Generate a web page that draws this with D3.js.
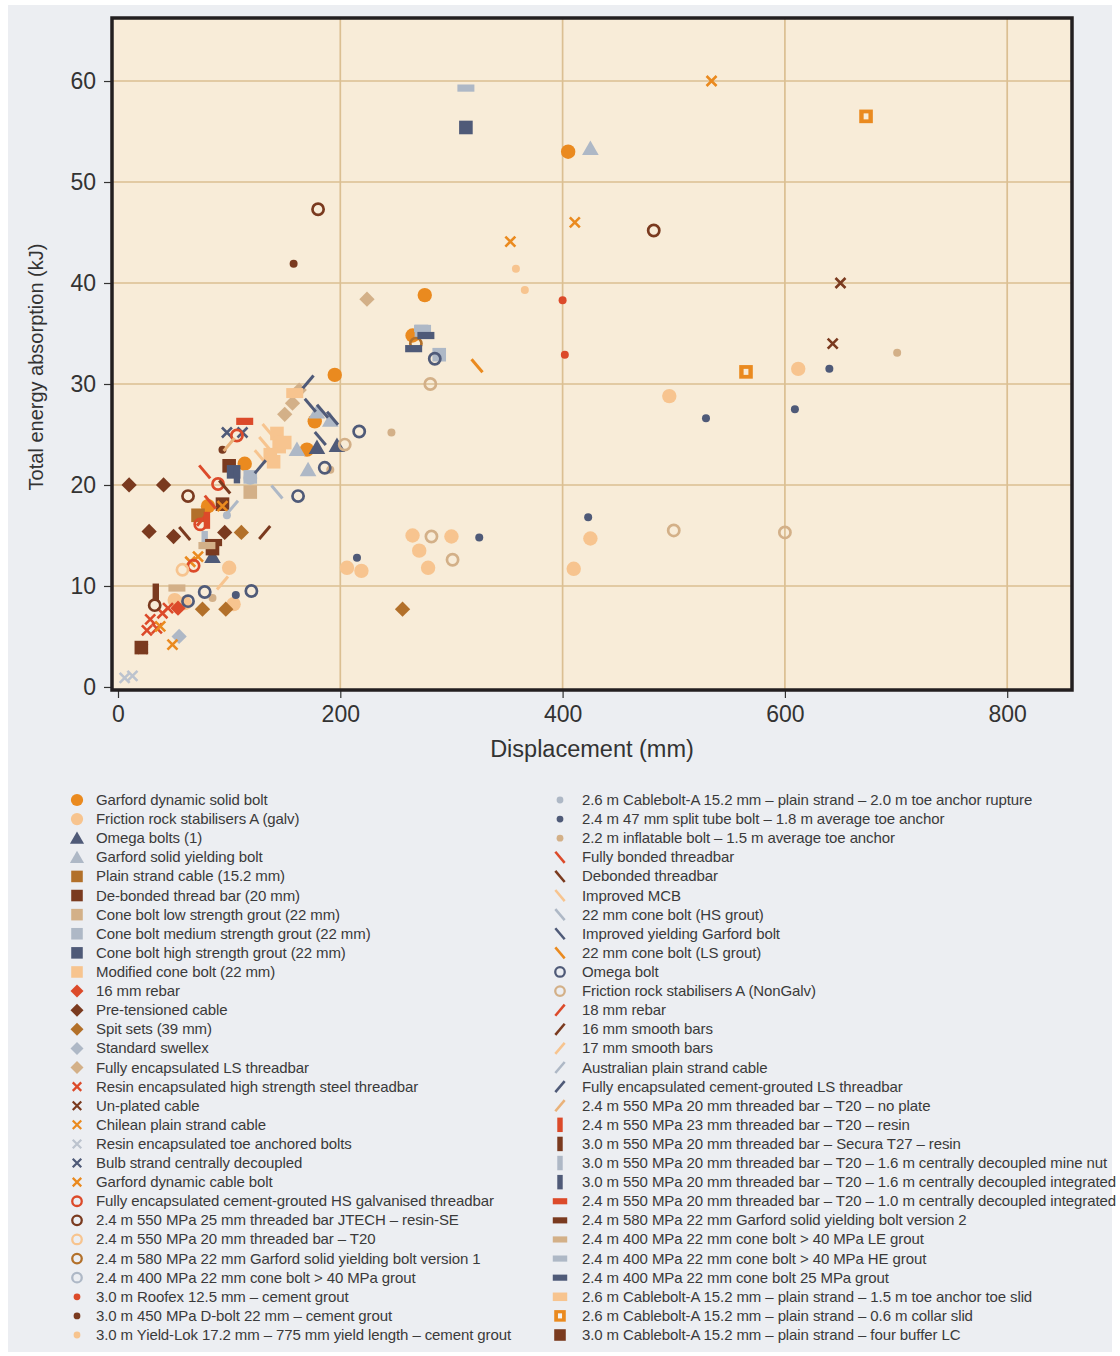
<!DOCTYPE html>
<html><head><meta charset="utf-8">
<script src="https://cdn.jsdelivr.net/npm/d3@7"></script>
<style>
body{margin:0;background:#fff;}
text{font-family:"Liberation Sans",Arial,Helvetica,sans-serif;}
</style>
</head><body>
<svg id="chart" width="1120" height="1356"></svg>
<script>
// ---------------- DATA ----------------
const seriesNames = [
"Garford dynamic solid bolt",
"Friction rock stabilisers A (galv)",
"Omega bolts (1)",
"Garford solid yielding bolt",
"Plain strand cable (15.2 mm)",
"De-bonded thread bar (20 mm)",
"Cone bolt low strength grout (22 mm)",
"Cone bolt medium strength grout (22 mm)",
"Cone bolt high strength grout (22 mm)",
"Modified cone bolt (22 mm)",
"16 mm rebar",
"Pre-tensioned cable",
"Spit sets (39 mm)",
"Standard swellex",
"Fully encapsulated LS threadbar",
"Resin encapsulated high strength steel threadbar",
"Un-plated cable",
"Chilean plain strand cable",
"Resin encapsulated toe anchored bolts",
"Bulb strand centrally decoupled",
"Garford dynamic cable bolt",
"Fully encapsulated cement-grouted HS galvanised threadbar",
"2.4 m 550 MPa 25 mm threaded bar JTECH – resin-SE",
"2.4 m 550 MPa 20 mm threaded bar – T20",
"2.4 m 580 MPa 22 mm Garford solid yielding bolt version 1",
"2.4 m 400 MPa 22 mm cone bolt > 40 MPa grout",
"3.0 m Roofex 12.5 mm – cement grout",
"3.0 m 450 MPa D-bolt 22 mm – cement grout",
"3.0 m Yield-Lok 17.2 mm – 775 mm yield length – cement grout",
"2.6 m Cablebolt-A 15.2 mm – plain strand – 2.0 m toe anchor rupture",
"2.4 m 47 mm split tube bolt – 1.8 m average toe anchor",
"2.2 m inflatable bolt – 1.5 m average toe anchor",
"Fully bonded threadbar",
"Debonded threadbar",
"Improved MCB",
"22 mm cone bolt (HS grout)",
"Improved yielding Garford bolt",
"22 mm cone bolt (LS grout)",
"Omega bolt",
"Friction rock stabilisers A (NonGalv)",
"18 mm rebar",
"16 mm smooth bars",
"17 mm smooth bars",
"Australian plain strand cable",
"Fully encapsulated cement-grouted LS threadbar",
"2.4 m 550 MPa 20 mm threaded bar – T20 – no plate",
"2.4 m 550 MPa 23 mm threaded bar – T20 – resin",
"3.0 m 550 MPa 20 mm threaded bar – Secura T27 – resin",
"3.0 m 550 MPa 20 mm threaded bar – T20 – 1.6 m centrally decoupled mine nut",
"3.0 m 550 MPa 20 mm threaded bar – T20 – 1.6 m centrally decoupled integrated",
"2.4 m 550 MPa 20 mm threaded bar – T20 – 1.0 m centrally decoupled integrated",
"2.4 m 580 MPa 22 mm Garford solid yielding bolt version 2",
"2.4 m 400 MPa 22 mm cone bolt > 40 MPa LE grout",
"2.4 m 400 MPa 22 mm cone bolt > 40 MPa HE grout",
"2.4 m 400 MPa 22 mm cone bolt 25 MPa grout",
"2.6 m Cablebolt-A 15.2 mm – plain strand – 1.5 m toe anchor toe slid",
"2.6 m Cablebolt-A 15.2 mm – plain strand – 0.6 m collar slid",
"3.0 m Cablebolt-A 15.2 mm – plain strand – four buffer LC"
];

// [displacement (mm), energy (kJ)] per series, same order as seriesNames
const seriesPoints = [
[[405,53.0],[276,38.8],[195,30.9],[265,34.8],[177,26.3],[170,23.5],[114,22.1],[81,17.9]],
[[612,31.5],[496,28.8],[265,15.0],[300,14.9],[271,13.5],[279,11.8],[206,11.8],[219,11.5],[425,14.7],[410,11.7],[100,11.8],[104,8.2],[51,8.6],[60,8.3]],
[[179,23.7],[197,23.9],[85,12.9]],
[[425,53.3],[191,26.4],[161,23.5],[171,21.5],[179,27.2]],
[[72,17.0]],
[[100,21.9],[94,18.1],[85,13.7]],
[[119,19.3]],
[[273,35.2],[289,32.9],[119,20.8]],
[[313,55.4],[104,21.3]],
[[143,25.1],[145,23.8],[140,22.3],[150,24.2],[137,23.0]],
[[54,7.8]],
[[10,20.0],[41,20.0],[28,15.4],[50,14.9],[96,15.3]],
[[111,15.3],[76,7.7],[97,7.7],[256,7.7]],
[[55,5.0]],
[[224,38.4],[150,27.0],[157,28.1],[163,29.4]],
[[29,6.7],[40,7.3],[26,5.6],[35,5.8],[22,3.8],[45,7.8]],
[[650,40.0],[643,34.0]],
[[49,4.2],[38,6.0],[65,12.4],[72,12.9],[94,17.9]],
[[6,0.9],[13,1.1]],
[[98,25.2],[112,25.2]],
[[534,60.0],[411,46.0],[353,44.1]],
[[107,24.9],[90,20.1],[74,16.1],[68,12.0]],
[[180,47.3],[482,45.2],[63,18.9],[33,8.1]],
[[58,11.6]],
[[268,34.0]],
[[119,20.7]],
[[402,32.9],[400,38.3]],
[[158,41.9],[94,23.5]],
[[358,41.4],[366,39.3]],
[[98,17.0]],
[[640,31.5],[609,27.5],[529,26.6],[423,16.8],[325,14.8],[215,12.8],[106,9.1]],
[[701,33.1],[246,25.2],[85,8.8],[191,21.5]],
[[78,21.3],[83,18.3]],
[[60,15.2],[96,19.8]],
[[135,25.4],[132,24.1],[128,22.8]],
[[143,19.3]],
[[173,27.9],[184,27.3],[193,26.6],[182,24.6]],
[[323,31.8]],
[[285,32.5],[217,25.3],[162,18.9],[186,21.7],[120,9.5],[78,9.4],[63,8.5]],
[[281,30.0],[282,14.9],[301,12.6],[500,15.5],[600,15.3],[204,24.0]],
[[76,16.6]],
[[132,15.3]],
[[94,10.3]],
[[103,17.8]],
[[171,30.2],[128,21.8]],
[[100,24.0]],
[[80,16.5]],
[[34,9.4]],
[[78,14.6]],
[[107,21.0]],
[[114,26.3]],
[[86,14.3]],
[[80,14.0],[53,9.8]],
[[313,59.3],[274,35.5]],
[[266,33.5],[277,34.8]],
[[159,29.1]],
[[673,56.5],[565,31.2]],
[[21,3.9]]
];

const xTickValues = [0, 200, 400, 600, 800];
const yTickValues = [0, 10, 20, 30, 40, 50, 60];
const xTitle = "Displacement (mm)";
const yTitle = "Total energy absorption (kJ)";

// ---------------- STYLES ----------------
const C = {
  orange:"#ea8a1f", peach:"#f7c48f", slate:"#4f5a78", lgray:"#aeb8c6",
  brorange:"#b2702a", dbrown:"#7a3a1f", tan:"#d3b088", red:"#dc4a2a", xgray:"#bcc3ce"
};
const seriesShapes = [
"circle","circle","tri","tri","square","square","square","square","square","square",
"diamond","diamond","diamond","diamond","diamond",
"x","x","x","x","x","x",
"ring","ring","ring","ring","ring",
"dot","dot","dot","dot","dot","dot",
"bslash","bslash","bslash","bslash","bslash","bslash",
"ring","ring",
"slash","slash","slash","slash","slash","slash",
"vbar","vbar","vbar","vbar",
"hbar","hbar","hbar","hbar","hbar","hbarw","sqhole","square"
];
const seriesColors = [
C.orange,C.peach,C.slate,C.lgray,C.brorange,C.dbrown,C.tan,C.lgray,C.slate,C.peach,
C.red,C.dbrown,C.brorange,C.lgray,C.tan,
C.red,C.dbrown,C.orange,C.xgray,C.slate,C.orange,
C.red,C.dbrown,C.peach,C.brorange,C.lgray,
C.red,C.dbrown,C.peach,C.lgray,C.slate,C.tan,
C.red,C.dbrown,C.peach,C.lgray,C.slate,C.orange,
C.slate,C.tan,
C.red,C.dbrown,C.peach,C.lgray,C.slate,"#e9b27a",
C.red,C.dbrown,C.lgray,C.slate,
C.red,C.dbrown,C.tan,C.lgray,C.slate,C.peach,C.orange,C.dbrown
];

const PLOT_BG = "#f8ecd8";

// ---------------- DRAW ----------------
const svg = d3.select("#chart");
svg.append("rect").attr("x",8).attr("y",5).attr("width",1104).attr("height",1347).attr("fill","#eceef2");

const frame = {l:112, r:1072, t:18, b:690};
const x = d3.scaleLinear().domain([-5.4, 858.3]).range([frame.l, frame.r]);
const y = d3.scaleLinear().domain([-0.3, 66.24]).range([frame.b, frame.t]);

svg.append("rect").attr("x",frame.l).attr("y",frame.t)
  .attr("width",frame.r-frame.l).attr("height",frame.b-frame.t).attr("fill",PLOT_BG);

// grid
const grid = svg.append("g");
grid.selectAll("line.gx").data(xTickValues.filter(d=>d>0)).join("line")
  .attr("x1",d=>x(d)).attr("x2",d=>x(d)).attr("y1",frame.t).attr("y2",frame.b)
  .attr("stroke","#dbbf92").attr("stroke-width",1.7);
grid.selectAll("line.gy").data(yTickValues.filter(d=>d>0)).join("line")
  .attr("y1",d=>y(d)).attr("y2",d=>y(d)).attr("x1",frame.l).attr("x2",frame.r)
  .attr("stroke","#dbbf92").attr("stroke-width",1.7);

// axes
const xAxis = d3.axisBottom(x).tickValues(xTickValues).tickSize(7).tickPadding(8);
const yAxis = d3.axisLeft(y).tickValues(yTickValues).tickSize(7).tickPadding(8);
const gx = svg.append("g").attr("transform",`translate(0,${frame.b+1})`).call(xAxis);
const gy = svg.append("g").attr("transform",`translate(${frame.l-1},0)`).call(yAxis);
[gx,gy].forEach(g=>{
  g.select(".domain").remove();
  g.selectAll(".tick line").attr("stroke","#333").attr("stroke-width",1.2);
  g.selectAll(".tick text").attr("fill","#333").style("font-size","23px")
    .style("font-family",'"Liberation Sans",Arial,sans-serif');
});

// markers
function drawMarker(g, shape, color, s, bg){
  switch(shape){
    case "circle": g.append("circle").attr("r",7.2*s).attr("fill",color); break;
    case "dot": g.append("circle").attr("r",4*s).attr("fill",color); break;
    case "ring": g.append("circle").attr("r",5.6*s).attr("fill","none").attr("stroke",color).attr("stroke-width",2.7*s); break;
    case "tri": g.append("path").attr("d",d3.symbol(d3.symbolTriangle, 120*s*s)()).attr("fill",color).attr("transform","translate(0,1.5)"); break;
    case "square": g.append("rect").attr("x",-6.8*s).attr("y",-6.8*s).attr("width",13.6*s).attr("height",13.6*s).attr("fill",color); break;
    case "diamond": g.append("rect").attr("x",-5.4*s).attr("y",-5.4*s).attr("width",10.8*s).attr("height",10.8*s).attr("fill",color).attr("transform","rotate(45)"); break;
    case "x": g.append("path").attr("d",`M${-5*s},${-5*s}L${5*s},${5*s}M${-5*s},${5*s}L${5*s},${-5*s}`).attr("stroke",color).attr("stroke-width",2.6*s).attr("fill","none"); break;
    case "bslash": g.append("line").attr("x1",-5.5*s).attr("y1",-6.5*s).attr("x2",5.5*s).attr("y2",6.5*s).attr("stroke",color).attr("stroke-width",3*s); break;
    case "slash": g.append("line").attr("x1",-5.5*s).attr("y1",6.5*s).attr("x2",5.5*s).attr("y2",-6.5*s).attr("stroke",color).attr("stroke-width",3*s); break;
    case "vbar": g.append("rect").attr("x",-3.2*s).attr("y",-8.5*s).attr("width",6.4*s).attr("height",17*s).attr("fill",color); break;
    case "hbar": g.append("rect").attr("x",-8.5*s).attr("y",-3.6*s).attr("width",17*s).attr("height",7.2*s).attr("fill",color); break;
    case "hbarw": g.append("rect").attr("x",-8.5*s).attr("y",-5*s).attr("width",17*s).attr("height",10*s).attr("fill",color); break;
    case "sqhole":
      g.append("rect").attr("x",-6.8*s).attr("y",-6.8*s).attr("width",13.6*s).attr("height",13.6*s).attr("fill",color);
      g.append("rect").attr("x",-2.4*s).attr("y",-3*s).attr("width",4.8*s).attr("height",6*s).attr("fill",bg);
      break;
  }
}

const plotG = svg.append("g");
seriesPoints.forEach((pts,i)=>{
  pts.forEach(p=>{
    const g = plotG.append("g").attr("transform",`translate(${x(p[0])},${y(p[1])})`);
    drawMarker(g, seriesShapes[i], seriesColors[i], 1, PLOT_BG);
  });
});

// frame border
svg.append("rect").attr("x",frame.l).attr("y",frame.t)
  .attr("width",frame.r-frame.l).attr("height",frame.b-frame.t)
  .attr("fill","none").attr("stroke","#231f20").attr("stroke-width",3.5);

// axis titles
svg.append("text").attr("x",592).attr("y",757).attr("text-anchor","middle")
  .attr("fill","#333").style("font-size","23.5px").text(xTitle);
svg.append("text").attr("transform","translate(43,367) rotate(-90)").attr("text-anchor","middle")
  .attr("fill","#333").style("font-size","20px").text(yTitle);

// legend
const half = Math.ceil(seriesNames.length/2);
const rowY = d3.scaleLinear().domain([0, half-1]).range([800, 1335]);
seriesNames.forEach((name,i)=>{
  const col = i < half ? 0 : 1;
  const row = col===0 ? i : i-half;
  const mx = col===0 ? 77 : 560;
  const tx = col===0 ? 96 : 582;
  const cy = rowY(row);
  const g = svg.append("g").attr("transform",`translate(${mx},${cy})`);
  drawMarker(g, seriesShapes[i], seriesColors[i], 0.85, "#f4f4f4");
  svg.append("text").attr("x",tx).attr("y",cy+5).attr("fill","#3a3a3a")
    .style("font-size","15px").style("letter-spacing","-0.1px").text(name);
});
</script>
</body></html>
